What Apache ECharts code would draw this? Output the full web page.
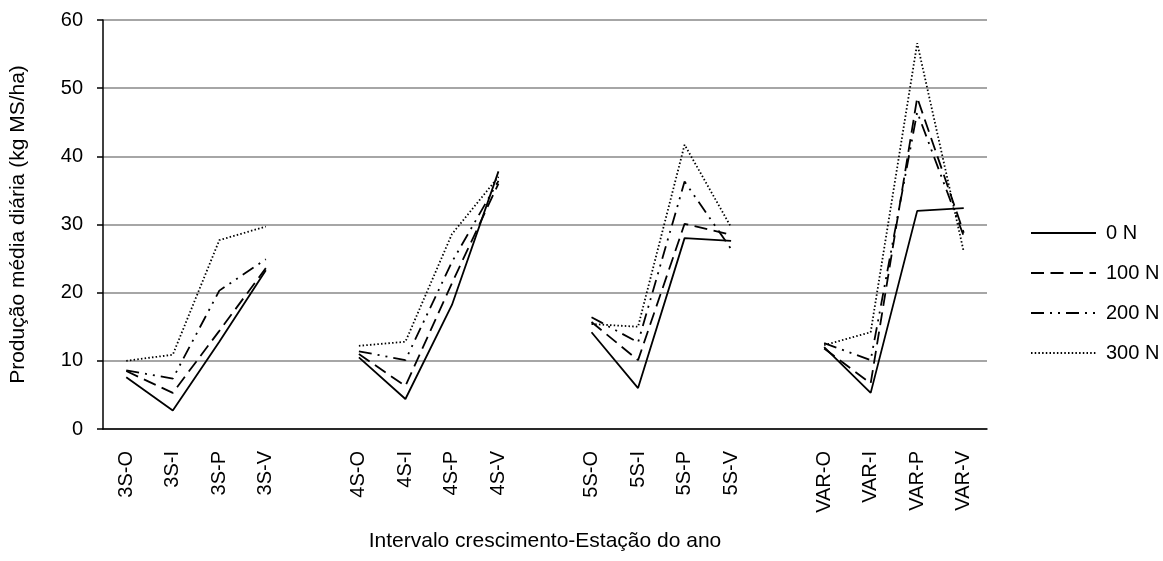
<!DOCTYPE html>
<html>
<head>
<meta charset="utf-8">
<script src="https://cdn.jsdelivr.net/npm/echarts@6/dist/echarts.min.js"></script>
<style>
  html, body { margin: 0; padding: 0; background: #fff; }
  #chart { width: 1163px; height: 561px; }
</style>
</head>
<body>
<div id="chart"></div>
<script>
// Growth interval and season; blank slots separate the groups
const categories = [
  '3S-O', '3S-I', '3S-P', '3S-V', ' ',
  '4S-O', '4S-I', '4S-P', '4S-V', '  ',
  '5S-O', '5S-I', '5S-P', '5S-V', '   ',
  'VAR-O', 'VAR-I', 'VAR-P', 'VAR-V'
];

const seriesNames = ['0 N', '100 N', '200 N', '300 N'];

const n0 = [7.6, 2.7, 12.8, 23.3, null, 10.5, 4.4, 18.2, 37.8, null, 14.2, 6.0, 28.0, 27.6, null, 12.0, 5.3, 32.0, 32.4];
const n100 = [8.5, 5.3, 14.4, 23.6, null, 11.0, 6.3, 21.4, 36.0, null, 15.7, 10.1, 30.1, 28.5, null, 11.8, 6.7, 48.6, 28.8];
const n200 = [8.6, 7.4, 20.3, 24.9, null, 11.4, 10.1, 24.5, 36.4, null, 16.4, 12.7, 36.3, 26.4, null, 12.6, 10.1, 46.5, 28.3];
const n300 = [10.0, 10.9, 27.7, 29.7, null, 12.2, 12.8, 28.6, 37.0, null, 15.4, 15.0, 41.7, 29.6, null, 12.3, 14.2, 56.6, 26.0];

const yTicks = { min: 0, max: 60, interval: 10 };

const FONT = 'Liberation Sans, Arial, sans-serif';
const FS = 20;
const NAME_FS = 21;

const dashStyles = [
  'solid',
  [13, 6.5],
  [13, 6, 2, 6, 2, 6],
  [1.5, 2.2]
];

const chart = echarts.init(document.getElementById('chart'), null, { renderer: 'canvas' });

const seriesData = [n0, n100, n200, n300];

chart.setOption({
  animation: false,
  backgroundColor: '#ffffff',
  textStyle: { fontFamily: FONT, color: '#000' },
  grid: { left: 103, right: 176, top: 20, bottom: 132, containLabel: false },
  legend: {
    orient: 'vertical',
    left: 1030,
    top: 223,
    padding: 0,
    itemWidth: 65,
    itemHeight: 20,
    itemGap: 20,
    itemStyle: { color: 'rgba(0,0,0,0)', borderWidth: 0, opacity: 0 },
    textStyle: { fontFamily: FONT, fontSize: FS, color: '#000', padding: [0, 0, 0, 5] },
    data: seriesNames
  },
  xAxis: {
    type: 'category',
    data: categories,
    boundaryGap: true,
    name: 'Intervalo crescimento-Estação do ano',
    nameLocation: 'middle',
    nameGap: 102,
    nameTextStyle: { fontFamily: FONT, fontSize: NAME_FS, color: '#000' },
    axisLine: { lineStyle: { color: '#000', width: 1.5 } },
    axisTick: { inside: true, length: 7, interval: 0, lineStyle: { color: '#000', width: 1.5 } },
    axisLabel: { rotate: 90, interval: 0, margin: 22, fontFamily: FONT, fontSize: FS, color: '#000' },
    splitLine: { show: false }
  },
  yAxis: {
    type: 'value',
    min: yTicks.min,
    max: yTicks.max,
    interval: yTicks.interval,
    name: 'Produção média diária (kg MS/ha)',
    nameLocation: 'middle',
    nameGap: 74,
    nameTextStyle: { fontFamily: FONT, fontSize: NAME_FS, color: '#000' },
    axisLine: { show: true, lineStyle: { color: '#000', width: 1.5 } },
    axisTick: { show: true, inside: false, length: 6, lineStyle: { color: '#000', width: 1.5 } },
    axisLabel: { margin: 20, fontFamily: FONT, fontSize: FS, color: '#000' },
    splitLine: { show: true, lineStyle: { color: '#a6a6a6', width: 2 } }
  },
  series: seriesNames.map((name, i) => ({
    name: name,
    type: 'line',
    data: seriesData[i],
    connectNulls: false,
    symbol: 'none',
    showSymbol: false,
    z: 10 - i,
    lineStyle: { color: '#000', width: 1.8, type: dashStyles[i] },
    itemStyle: { color: '#000' },
    emphasis: { disabled: true }
  }))
});
</script>
</body>
</html>
